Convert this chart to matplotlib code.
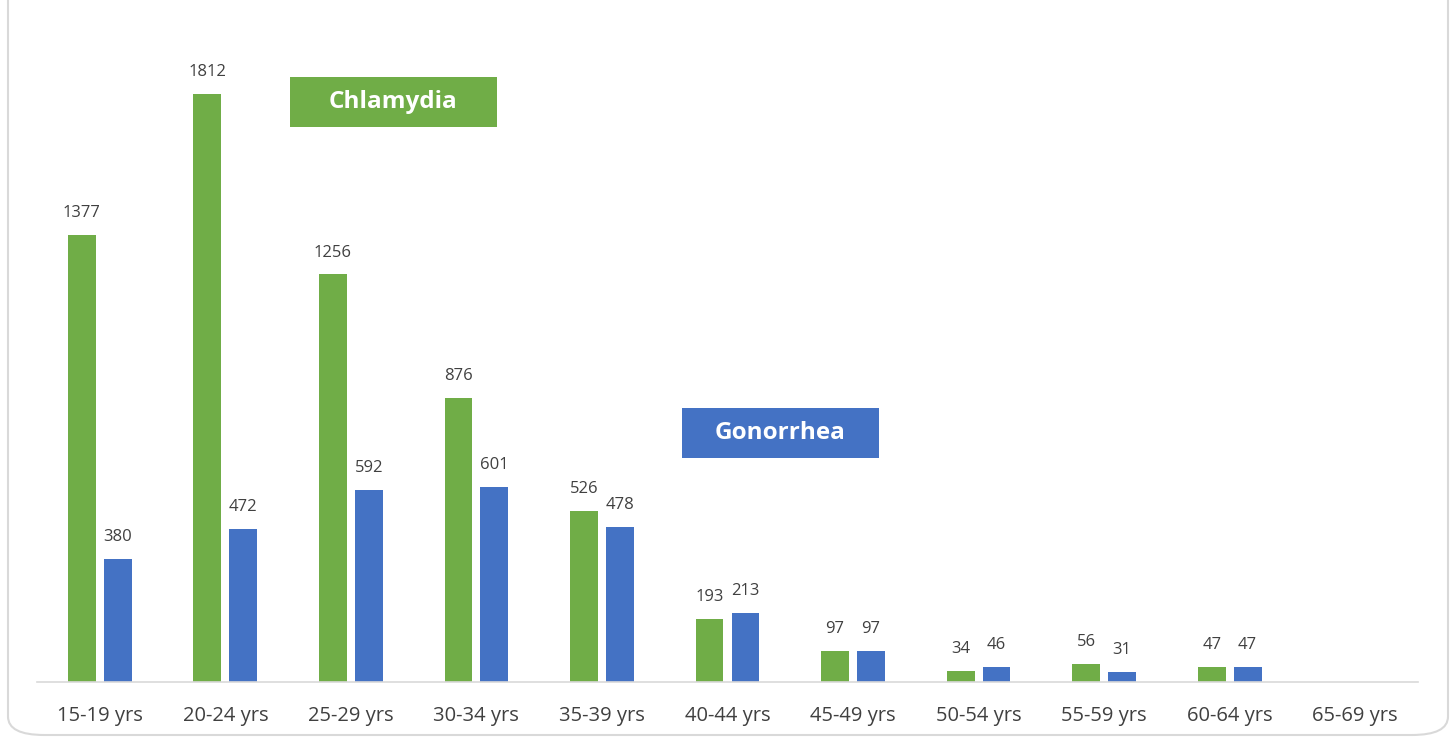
import numpy as np
import matplotlib
matplotlib.use("Agg")
import matplotlib.pyplot as plt
from matplotlib.patches import FancyBboxPatch, Rectangle

age_groups = ["15-19 yrs", "20-24 yrs", "25-29 yrs", "30-34 yrs", "35-39 yrs",
              "40-44 yrs", "45-49 yrs", "50-54 yrs", "55-59 yrs", "60-64 yrs",
              "65-69 yrs"]
chlamydia = [1377, 1812, 1256, 876, 526, 193, 97, 34, 56, 47, None]
gonorrhea = [380, 472, 592, 601, 478, 213, 97, 46, 31, 47, None]

GREEN = "#70AD47"
BLUE = "#4472C4"
GRID = "#D9D9D9"
TXT = "#404040"

plt.rcParams['font.family'] = ['Open Sans', 'DejaVu Sans']


def main():
    W, H = 1450, 738
    fig = plt.figure(figsize=(W / 100, H / 100), dpi=100)

    # rounded chart frame
    frame = FancyBboxPatch((8 / W, 3 / H), 1440 / W, 760 / H,
                           boxstyle="round,pad=0,rounding_size=0.025",
                           transform=fig.transFigure, fill=False,
                           edgecolor=GRID, linewidth=1.5)
    fig.add_artist(frame)

    ax = fig.add_axes([37 / W, (H - 682) / H, 1381 / W, (682 - 33) / H])
    x = np.arange(len(age_groups))
    ch = [np.nan if v is None else v for v in chlamydia]
    go = [np.nan if v is None else v for v in gonorrhea]
    w = 0.222
    b1 = ax.bar(x - 0.143, ch, w, color=GREEN)
    b2 = ax.bar(x + 0.143, go, w, color=BLUE)
    ax.bar_label(b1, labels=["" if v is None else str(v) for v in chlamydia],
                 padding=10, fontsize=12, color=TXT)
    ax.bar_label(b2, labels=["" if v is None else str(v) for v in gonorrhea],
                 padding=10, fontsize=12, color=TXT)

    ax.set_xlim(-0.5, len(age_groups) - 0.5)
    ax.set_ylim(0, 2000)
    ax.set_xticks(x)
    ax.set_xticklabels(age_groups, fontsize=14.5, color=TXT)
    ax.tick_params(axis='x', length=0, pad=17)
    ax.set_yticks([])
    for s in ["top", "right", "left"]:
        ax.spines[s].set_visible(False)
    ax.spines["bottom"].set_color(GRID)
    ax.spines["bottom"].set_linewidth(1.2)

    # series tags
    for (x0, x1, y0, y1, name, col) in [(290, 497, 77, 127, "Chlamydia", GREEN),
                                        (682, 879, 408, 458, "Gonorrhea", BLUE)]:
        fig.add_artist(Rectangle((x0 / W, (H - y1) / H), (x1 - x0) / W,
                                 (y1 - y0) / H, transform=fig.transFigure,
                                 facecolor=col, edgecolor="none"))
        fig.text((x0 + x1) / 2 / W, (H - (y0 + y1) / 2) / H, name,
                 ha="center", va="center", color="white", fontsize=17.5,
                 fontweight="bold")

    fig.savefig("out.png", dpi=100)


if __name__ == "__main__":
    main()
